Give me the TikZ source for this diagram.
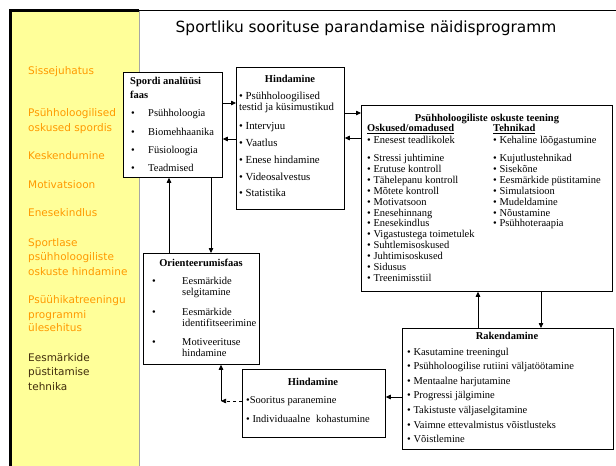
\documentclass[tikz,border=0pt]{standalone}
\usepackage{fontspec}
\setmainfont{Liberation Serif}
\newfontfamily\sidefont{DejaVu Sans}
\usetikzlibrary{arrows.meta}
\definecolor{sideyellow}{RGB}{255,255,153}
\definecolor{sideorange}{RGB}{255,153,0}
\definecolor{sidedark}{RGB}{64,44,12}
\begin{document}
\begin{tikzpicture}[x=1pt,y=-1pt,
  box/.style={draw, line width=0.75pt, fill=white, anchor=north west, inner sep=0pt},
  txt/.style={inner sep=0pt, anchor=base west, font=\fontsize{10.5}{12}\selectfont},
  ttl/.style={inner sep=0pt, anchor=base, font=\fontsize{10.5}{12}\selectfont\bfseries},
  side/.style={inner sep=0pt, anchor=base west, font=\sidefont\fontsize{10.5}{12}\selectfont, text=sideorange},
  arr/.style={-{Triangle[length=5pt,width=4.5pt]}, line width=0.75pt},
]
\useasboundingbox (0,0) rectangle (616,466);
\fill[white] (0,0) rectangle (616,466);

% side panel
\fill[sideyellow] (10,10) rectangle (139,466);
\draw[gray!70, line width=0.8pt] (139,11) -- (139,466);
\draw[line width=1.6pt] (139,10.5) -- (616,10.5);
\draw[line width=3pt] (10.5,466) -- (10.5,10.5) -- (139,10.5);

\foreach \yy/\lbl in {74/Sissejuhatus, 116/Psühholoogilised, 131.5/oskused spordis,
   159.5/Keskendumine, 188.5/Motivatsioon, 216.5/Enesekindlus, 246.5/Sportlase,
   260.5/psühholoogiliste, 275.5/oskuste hindamine, 303.5/Psüühikatreeningu,
   318.5/programmi, 331.5/ülesehitus}
  \node[side] (s\yy) at (28,\yy) {\lbl};
\foreach \yy/\lbl in {361.5/Eesmärkide, 375.5/püstitamise, 390.5/tehnika}
  \node[side, text=sidedark] (s\yy) at (28,\yy) {\lbl};

% title
\node[inner sep=0pt, anchor=base, font=\sidefont\fontsize{15.4}{18}\selectfont] (title) at (366,32)
  {Sportliku soorituse parandamise näidisprogramm};

% boxes
\node[box, minimum width=99pt, minimum height=105pt] (A) at (123,72) {};
\node[box, minimum width=108pt, minimum height=142pt] (B) at (236,67) {};
\node[box, minimum width=251pt, minimum height=186pt] (C) at (361,105) {};
\node[box, minimum width=116pt, minimum height=111pt] (D) at (143,253) {};
\node[box, minimum width=143pt, minimum height=68pt] (E) at (242,369) {};
\node[box, minimum width=211pt, minimum height=121pt] (F) at (402,328) {};

% Spordi analüüsi faas
\node[txt, font=\fontsize{10.5}{12}\selectfont\bfseries] (a0) at (130,84.5) {Spordi analüüsi};
\node[txt, font=\fontsize{10.5}{12}\selectfont\bfseries] (a00) at (130,98.5) {faas};
\foreach \yy/\lbl [count=\i] in {116.5/Psühholoogia, 135.5/Biomehhaanika, 153.5/Füsioloogia, 171.5/Teadmised} {
  \node[txt] (ab\i) at (131,\yy) {•};
  \node[txt] (a\i) at (148,\yy) {\lbl};
}

% Hindamine (upper)
\node[ttl] (b0) at (290,82.5) {Hindamine};
\foreach \yy/\lbl [count=\i] in {99.5/• Psühholoogilised, 110.5/testid ja küsimustikud, 129.5/• Intervjuu,
   146.5/• Vaatlus, 163.5/• Enese hindamine, 180.5/• Videosalvestus, 196.5/• Statistika}
  \node[txt, font=\fontsize{10.8}{12}\selectfont] (b\i) at (239,\yy) {\lbl};

% Psühholoogiliste oskuste teening
\node[ttl] (c0) at (487,121.5) {Psühholoogiliste oskuste teening};
\node[txt, font=\fontsize{10.5}{12}\selectfont\bfseries] (ch1) at (367,131.5) {\underline{Oskused/omadused}};
\node[txt, font=\fontsize{10.5}{12}\selectfont\bfseries] (ch2) at (493,131.5) {\underline{Tehnikad}};
\node[txt] (cl0) at (367,143.5) {• Enesest teadlikolek};
\node[txt] (cr0) at (493,143.5) {• Kehaline lõõgastumine};
\foreach \lbl [count=\i] in {Stressi juhtimine, Erutuse kontroll, Tähelepanu kontroll, Mõtete kontroll,
   Motivatsoon, Enesehinnang, Enesekindlus, Vigastustega toimetulek, Suhtlemisoskused,
   Juhtimisoskused, Sidusus, Treenimisstiil}
  \node[txt] (cl\i) at (367,{161.5+10.9*(\i-1)}) {• \lbl};
\foreach \lbl [count=\i] in {Kujutlustehnikad, Sisekõne, Eesmärkide püstitamine, Simulatsioon,
   Mudeldamine, Nõustamine, Psühhoteraapia}
  \node[txt] (cr\i) at (493,{161.5+10.9*(\i-1)}) {• \lbl};

% Orienteerumisfaas
\node[ttl] (d0) at (201,266.5) {Orienteerumisfaas};
\foreach \yy/\lbl [count=\i] in {284.5/Eesmärkide, 295.5/selgitamine, 315.5/Eesmärkide,
   326.5/identifitseerimine, 345.5/Motiveerituse, 356.5/hindamine}
  \node[txt] (d\i) at (182,\yy) {\lbl};
\foreach \yy [count=\i] in {284.5, 315.5, 345.5}
  \node[txt] (db\i) at (152,\yy) {•};

% Hindamine (lower)
\node[ttl] (e0) at (313,385.5) {Hindamine};
\node[txt] (e1) at (246,403.5) {•Sooritus paranemine};
\node[txt] (e2) at (246,422.5) {• Individuaalne\hspace{6pt}kohastumine};

% Rakendamine
\node[ttl] (f0) at (507,339.5) {Rakendamine};
\foreach \lbl [count=\i] in {Kasutamine treeningul, Psühholoogilise rutiini väljatöötamine,
   Mentaalne harjutamine, Progressi jälgimine, Takistuste väljaselgitamine,
   Vaimne ettevalmistus võistlusteks, Võistlemine}
  \node[txt] (f\i) at (407,{355+14.6*(\i-1)}) {• \lbl};

% connectors
\draw[arr] (A.east |- 0,103) -- (B.west |- 0,103);
\draw[arr] (B.west |- 0,139) -- (A.east |- 0,139);
\draw[arr] (B.east |- 0,113) -- (C.west |- 0,113);
\draw[arr] (C.west |- 0,138) -- (B.east |- 0,138);
\draw[arr] (D.north -| 169,0) -- (A.south -| 169,0);
\draw[arr] (A.south -| 211,0) -- (D.north -| 211,0);
\draw[arr] (F.north -| 478,0) -- (C.south -| 478,0);
\draw[arr] (C.south -| 541,0) -- (F.north -| 541,0);
\draw[arr] (F.west |- 0,397) -- (E.east |- 0,397);
\coordinate (turn) at (221,401);
\draw[arr, dashed, line width=0.6pt] (E.west |- turn) -- (turn);
\draw[arr] (turn) -- (D.south -| turn);
\end{tikzpicture}
\end{document}
